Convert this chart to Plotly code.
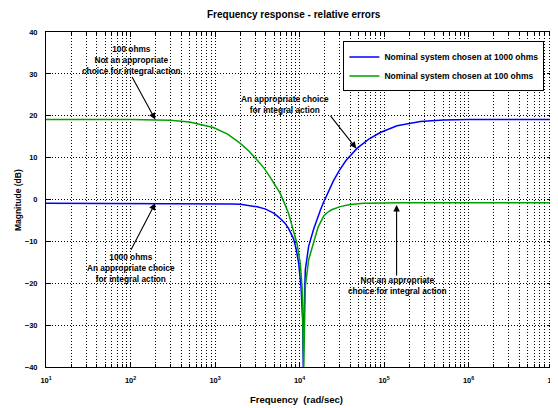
import plotly.graph_objects as go

# Frequencies (rad/sec) and magnitudes (dB)
freq_1000 = [10, 100, 316, 1000, 1585, 2000, 2512, 3162, 3981, 5012, 5888, 6761, 7413,
             7943, 8511, 9120, 9772, 10420, 10890, 11090, 11220, 11720, 12820, 14690,
             16110, 17780, 19280, 21880, 25120, 29510, 35480, 47860, 66070, 90360,
             142600, 269200, 501200, 1e6, 1e7]
mag_1000 = [-0.9, -0.9, -0.92, -0.98, -1.05, -1.15, -1.4, -1.75, -2.3, -3.3, -4.5, -5.7,
            -6.9, -8.0, -9.4, -11.8, -15.2, -20.8, -28.7, -40, -30, -16.8, -11.2, -7.1,
            -4.7, -2.4, -0.65, 1.9, 4.4, 6.9, 9.3, 12.2, 14.4, 16.0, 17.6, 18.65, 19.0,
            19.1, 19.1]

freq_100 = [10, 100, 295, 501, 955, 1413, 1995, 2512, 3162, 3802, 4467, 5248, 5888, 6607,
            7413, 8511, 9333, 10210, 10720, 11220, 11720, 12820, 14690, 16600, 19280,
            21380, 23990, 30200, 39810, 57540, 158500, 1e7]
mag_100 = [19.1, 19.1, 18.9, 18.5, 17.2, 15.6, 13.4, 11.6, 9.4, 7.5, 5.4, 3.2, 1.5, -0.8,
           -3.3, -7.6, -10.5, -15.2, -20.8, -40, -20.8, -14.4, -10.2, -6.6, -4.0, -3.1,
           -2.45, -1.7, -1.2, -0.92, -0.8, -0.8]

series_names = ["Nominal system chosen at 1000 ohms", "Nominal system chosen at 100 ohms"]
x_tick_vals = [1e1, 1e2, 1e3, 1e4, 1e5, 1e6, 1e7]
x_tick_text = ["10<sup>%d</sup>" % k for k in range(1, 8)]
y_tick_vals = [-40, -30, -20, -10, 0, 10, 20, 30, 40]

FONT = "Liberation Sans, Arial, sans-serif"
minor_vals = [m * 10 ** e for e in range(1, 7) for m in range(2, 10)]
GRID = "#000000"
DASH = "1px,2px"

fig = go.Figure()
fig.add_trace(go.Scatter(x=freq_1000, y=mag_1000, mode="lines", name=series_names[0],
                         line=dict(color="#0000FF", width=1.5)))
fig.add_trace(go.Scatter(x=freq_100, y=mag_100, mode="lines", name=series_names[1],
                         line=dict(color="#00A000", width=1.5)))

tickfont = dict(family=FONT, size=7.5, color="black", weight="bold")
fig.update_xaxes(type="log", range=[1, 7.00001], tickvals=x_tick_vals, ticktext=x_tick_text,
                 ticks="inside", ticklen=5, tickcolor="black", showline=True,
                 linecolor="black", linewidth=1, mirror="allticks",
                 showgrid=True, gridcolor=GRID, griddash=DASH, gridwidth=1,
                 tickfont=tickfont, ticklabelstandoff=6, zeroline=False,
                 ticklabeloverflow="allow", automargin=False,
                 minor=dict(tickvals=minor_vals, ticks="inside", ticklen=3,
                            tickcolor="black", showgrid=True, gridcolor=GRID,
                            griddash=DASH, gridwidth=1))
fig.update_yaxes(range=[-40, 40], tickvals=y_tick_vals, ticks="inside", ticklen=5,
                 tickcolor="black", showline=True, linecolor="black", linewidth=1,
                 mirror="allticks", showgrid=True, gridcolor=GRID, griddash=DASH,
                 gridwidth=1, tickfont=tickfont, ticklabelstandoff=6, zeroline=False,
                 automargin=False)

txt = dict(family=FONT, size=8.3, color="black", weight="bold")
ann = []
# text labels
ann.append(dict(x=2.01, y=33.2, xref="x", yref="y", showarrow=False, font=txt,
                text="100 ohms<br>Not an appropriate<br>choice for integral action"))
ann.append(dict(x=3.83, y=22.6, xref="x", yref="y", showarrow=False, font=txt,
                text="An appropriate choice<br>for integral action"))
ann.append(dict(x=2.0, y=-16.3, xref="x", yref="y", showarrow=False, font=txt,
                text="1000 ohms<br>An appropriate choice<br>for integral action"))
ann.append(dict(x=5.157, y=-20.6, xref="x", yref="y", showarrow=False, font=txt,
                text="Not an appropriate<br>choice for integral action"))
# arrows
for (xx, yy, axp, ayp) in [(2.293, 19.1, -24, -44), (4.672, 12.2, -27, -34),
                           (2.293, -0.9, -25, 48), (5.149, -1.3, 0, 72)]:
    ann.append(dict(x=xx, y=yy, xref="x", yref="y", ax=axp, ay=ayp, text="",
                    showarrow=True, arrowhead=2, arrowsize=1.2, arrowwidth=1.1,
                    arrowcolor="black"))
# axis titles and title
ann.append(dict(x=0.495, y=-0.097, xref="paper", yref="paper", showarrow=False,
                font=dict(txt, size=9.5), text="Frequency  (rad/sec)", yanchor="middle"))
ann.append(dict(x=-0.055, y=0.4985, xref="paper", yref="paper", showarrow=False,
                font=dict(txt, size=8.5), text="Magnitude (dB)", textangle=-90,
                xanchor="center", yanchor="middle"))
ann.append(dict(x=0.49, y=1.0, xref="paper", yref="paper", showarrow=False,
                font=dict(txt, size=10), text="Frequency response - relative errors",
                yanchor="middle", yshift=18))

# the page body adds an 8px offset, so the figure is 550x400
fig.update_layout(
    width=550, height=400,
    margin=dict(l=38, r=5, t=24, b=41, autoexpand=False),
    paper_bgcolor="white", plot_bgcolor="white",
    showlegend=True,
    legend=dict(x=0.983, y=0.972, xanchor="right", yanchor="top",
                bgcolor="white", bordercolor="black", borderwidth=1,
                font=dict(family=FONT, size=8.5, color="black", weight="bold"),
                itemwidth=30, tracegroupgap=0),
    annotations=ann,
)

fig.write_html("out.html")
